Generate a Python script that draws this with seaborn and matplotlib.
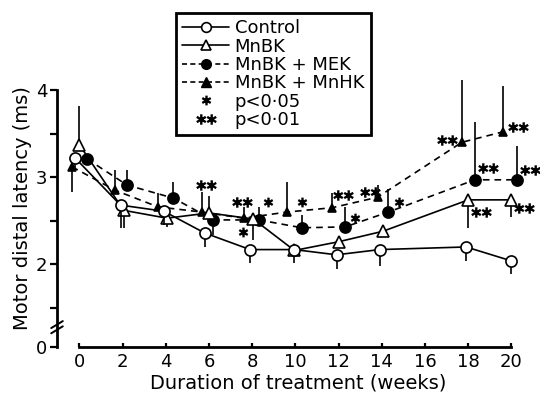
import numpy as np
import matplotlib
matplotlib.use("Agg")
import matplotlib.pyplot as plt
from matplotlib.lines import Line2D
from matplotlib.path import Path
import seaborn as sns

# ---- data (x = plotted week incl. small offsets) ----
ctrl_x = [-0.2, 1.9, 3.9, 5.8, 7.9, 9.95, 11.9, 13.9, 17.9, 20.0]
ctrl_y = [3.22, 2.68, 2.61, 2.36, 2.17, 2.17, 2.11, 2.17, 2.20, 2.04]
ctrl_lo = [0.15, 0.26, 0.16, 0.16, 0.15, 0.15, 0.16, 0.19, 0.16, 0.15]
ctrl_hi = [0, 0, 0, 0, 0, 0, 0, 0, 0, 0]

mnbk_x = [0.0, 2.05, 4.05, 6.0, 8.05, 9.95, 12.0, 14.05, 18.0, 20.0]
mnbk_y = [3.37, 2.62, 2.53, 2.59, 2.52, 2.16, 2.26, 2.38, 2.74, 2.74]
mnbk_lo = [0, 0.2, 0.1, 0, 0.24, 0, 0, 0, 0.32, 0.2]
mnbk_hi = [0.45, 0, 0, 0.2, 0, 0, 0, 0, 0, 0]

mek_x = [0.35, 2.2, 4.35, 6.2, 8.3, 10.3, 12.3, 14.3, 18.3, 20.25]
mek_y = [3.21, 2.91, 2.76, 2.51, 2.51, 2.42, 2.43, 2.60, 2.97, 2.97]
mek_lo = [0, 0, 0, 0.17, 0, 0, 0, 0, 0, 0]
mek_hi = [0, 0.17, 0.18, 0, 0.15, 0.15, 0.23, 0.27, 0.66, 0.39]

mnhk_x = [-0.35, 1.65, 3.63, 5.67, 7.6, 9.6, 11.7, 13.8, 17.7, 19.6]
mnhk_y = [3.12, 2.85, 2.66, 2.60, 2.53, 2.60, 2.65, 2.77, 3.40, 3.52]
mnhk_lo = [0.29, 0, 0, 0, 0, 0, 0, 0, 0, 0]
mnhk_hi = [0, 0.23, 0.16, 0.23, 0.13, 0.35, 0.17, 0.14, 0.71, 0.52]

# significance marks
sig1_x = [7.57, 8.73, 10.3, 12.75, 14.8]
sig1_y = [2.37, 2.71, 2.71, 2.53, 2.72]
sig2_x = [5.86, 7.52, 12.2, 13.45, 17.0, 20.3, 18.9, 20.85, 18.6, 20.6]
sig2_y = [2.91, 2.71, 2.80, 2.83, 3.43, 3.58, 3.11, 3.08, 2.60, 2.65]

labels = ["Control", "MnBK", "MnBK + MEK", "MnBK + MnHK", "p<0·05", "p<0·01"]
x_ticks = [0, 2, 4, 6, 8, 10, 12, 14, 16, 18, 20]
y_floor = 1.053  # where the broken axis shows "0"
y_ticks = [y_floor, 1.5, 2, 2.5, 3, 3.5, 4]
y_ticklabels = ["0", "", "2", "", "3", "", "4"]

sns.set_style("ticks")
plt.rcParams["font.family"] = ["DejaVu Sans"]
for k in ["text.color", "axes.labelcolor", "xtick.color", "ytick.color", "axes.edgecolor"]:
    plt.rcParams[k] = "black"


def asterisk(cx):
    verts, codes = [], []
    for a in range(3):
        ang = np.pi / 2 + a * np.pi / 3
        dx, dy = 0.5 * np.cos(ang), 0.5 * np.sin(ang)
        verts += [(cx - dx, -dy), (cx + dx, dy)]
        codes += [Path.MOVETO, Path.LINETO]
    return verts, codes


v1, c1 = asterisk(-0.5)
v2, c2 = asterisk(0.5)
double_star = Path(v1 + v2, c1 + c2)
single_star = Path(*asterisk(0.0))

fig = plt.figure(figsize=(5.4, 3.99), dpi=100)
ax = fig.add_axes([57 / 540, 52 / 399, 483 / 540, 277 / 399])

lw = 1.2
series = [
    (mnhk_x, mnhk_y, mnhk_lo, mnhk_hi, dict(marker="^", ms=6, mfc="k", ls=(0, (4, 3)))),
    (mek_x, mek_y, mek_lo, mek_hi, dict(marker="o", ms=8, mfc="k", ls=(0, (4, 3)))),
    (mnbk_x, mnbk_y, mnbk_lo, mnbk_hi, dict(marker="^", ms=8, mfc="white", ls="-")),
    (ctrl_x, ctrl_y, ctrl_lo, ctrl_hi, dict(marker="o", ms=8, mfc="white", ls="-")),
]
for i, (xs, ys, lo, hi, st) in enumerate(series):
    ax.errorbar(xs, ys, yerr=[lo, hi], fmt="none", ecolor="k", elinewidth=lw,
                capsize=0, zorder=2 + i * 2)
    sns.lineplot(x=xs, y=ys, ax=ax, color="k", lw=lw, marker=st["marker"],
                 markersize=st["ms"], markerfacecolor=st["mfc"], markeredgecolor="k",
                 markeredgewidth=lw, linestyle=st["ls"], zorder=3 + i * 2, clip_on=False)

ax.plot(sig1_x, sig1_y, ls="none", marker=single_star, ms=7, mfc="none",
        mec="k", mew=1.7, clip_on=False, zorder=10)
ax.plot(sig2_x, sig2_y, ls="none", marker=double_star, ms=14, mfc="none",
        mec="k", mew=1.7, clip_on=False, zorder=10)

ax.set_xlim(-1.04, 21.32)
ax.set_ylim(y_floor, 4.229)
ax.set_xticks(x_ticks)
ax.set_yticks(y_ticks)
ax.set_yticklabels(y_ticklabels)
for s in ["top", "right"]:
    ax.spines[s].set_visible(False)
ax.spines["left"].set_bounds(y_floor, 4)
ax.spines["bottom"].set_bounds(0, 20)
for s in ["left", "bottom"]:
    ax.spines[s].set_linewidth(2.0)
ax.tick_params(axis="y", direction="out", length=5, width=1.6, pad=2, labelsize=13)
ax.tick_params(axis="x", direction="in", length=3, width=1.6, pad=4, labelsize=13)
ax.set_xlabel("Duration of treatment (weeks)", fontsize=14, labelpad=2)
ax.set_ylabel("Motor distal latency (ms)", fontsize=14, labelpad=3)

# axis break marks
tr = ax.get_yaxis_transform()
for yb in [1.25, 1.31]:
    ax.plot([-0.012, 0.012], [yb - 0.04, yb + 0.04], color="k", lw=1.4,
            transform=tr, clip_on=False, zorder=12)

handles = [
    Line2D([], [], color="k", lw=lw, marker="o", ms=7, mfc="white", mew=lw),
    Line2D([], [], color="k", lw=lw, marker="^", ms=7, mfc="white", mew=lw),
    Line2D([], [], color="k", lw=lw, marker="o", ms=7, mfc="k", ls=(0, (3, 2))),
    Line2D([], [], color="k", lw=lw, marker="^", ms=7, mfc="k", ls=(0, (3, 2))),
    Line2D([], [], ls="none", marker=single_star, ms=7, mfc="none", mec="k", mew=1.7),
    Line2D([], [], ls="none", marker=double_star, ms=14, mfc="none", mec="k", mew=1.7),
]
leg = ax.legend(handles, labels, loc="upper left",
                bbox_to_anchor=(176 / 540, 1 - 13 / 399), bbox_transform=fig.transFigure,
                frameon=True, fancybox=False, edgecolor="k", framealpha=1,
                borderpad=0.35, handlelength=2.6, handletextpad=0.3,
                labelspacing=0.02, fontsize=13, borderaxespad=0)
leg.get_frame().set_linewidth(2.0)

fig.savefig("out.png", dpi=100)
